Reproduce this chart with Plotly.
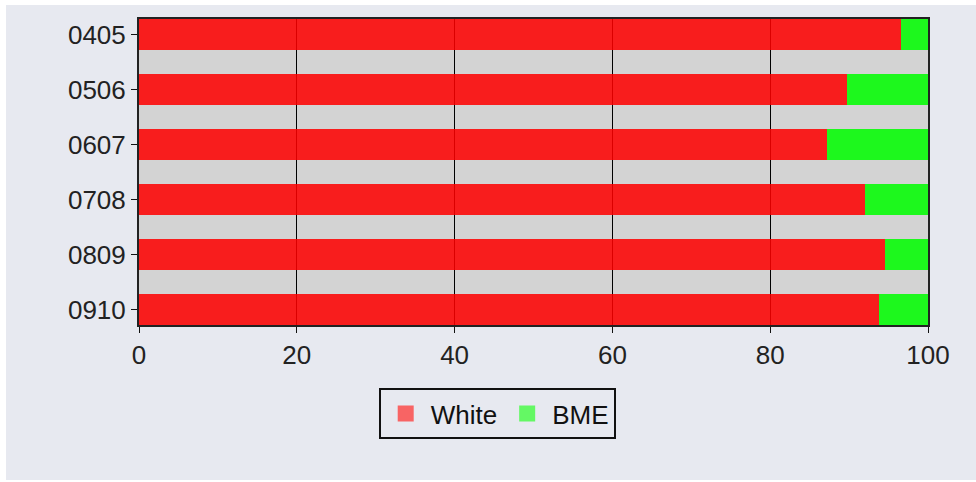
import plotly.graph_objects as go

years = ["0405", "0506", "0607", "0708", "0809", "0910"]
white = [96.6, 89.7, 87.2, 92.0, 94.5, 93.8]
bme = [3.4, 10.3, 12.8, 8.0, 5.5, 6.2]
x_ticks = [0, 20, 40, 60, 80, 100]

FONT = "Liberation Sans, Arial, sans-serif"
PANEL = "#e7e9f0"

fig = go.Figure()
fig.add_trace(go.Bar(y=years, x=white, orientation="h", name="White",
                     marker=dict(color="red", line=dict(width=0)), opacity=0.86,
                     showlegend=False))
fig.add_trace(go.Bar(y=years, x=bme, orientation="h", name="BME",
                     marker=dict(color="#00ff00", line=dict(width=0)), opacity=0.86,
                     showlegend=False))
# legend entries
fig.add_trace(go.Scatter(x=[None], y=[None], mode="markers", name="White",
                         marker=dict(symbol="square", size=16, color="#f86464")))
fig.add_trace(go.Scatter(x=[None], y=[None], mode="markers", name="BME",
                         marker=dict(symbol="square", size=16, color="#64f864")))

# panel background (light) with thin white border, plot area gray
fig.add_shape(type="rect", xref="paper", yref="paper",
              x0=-0.1686, x1=1.07, y0=-0.5065, y1=1.0458,
              fillcolor=PANEL, line=dict(width=0), layer="below")
fig.add_shape(type="rect", xref="paper", yref="paper",
              x0=0, x1=1, y0=0, y1=1,
              fillcolor="#d3d3d3", line=dict(width=0), layer="below")

fig.update_layout(
    width=976, height=482,
    margin=dict(l=139, r=48, t=19, b=157),
    paper_bgcolor="white", plot_bgcolor="#d3d3d3",
    barmode="stack", bargap=0.434,
    font=dict(family=FONT, size=26, color="#222222"),
    showlegend=True,
    legend=dict(orientation="h", x=0.454, xanchor="center", y=-0.206, yanchor="top",
                traceorder="normal",
                bgcolor=PANEL, bordercolor="#111111", borderwidth=2,
                font=dict(family=FONT, size=26, color="#111111"),
                itemwidth=40, tracegroupgap=0),
    xaxis=dict(range=[0, 100], tickvals=x_ticks, ticks="outside", ticklen=6,
               tickcolor="#111111", showgrid=True, gridcolor="#000000", gridwidth=1,
               showline=True, linecolor="#222222", linewidth=2, mirror=True,
               zeroline=False, fixedrange=True),
    yaxis=dict(type="category", categoryorder="array", categoryarray=years,
               range=[5.283, -0.283], ticks="outside", ticklen=6, tickcolor="#111111",
               showgrid=False, showline=True, linecolor="#222222", linewidth=2,
               mirror=True, zeroline=False, fixedrange=True),
)

fig.write_html("out.html")
